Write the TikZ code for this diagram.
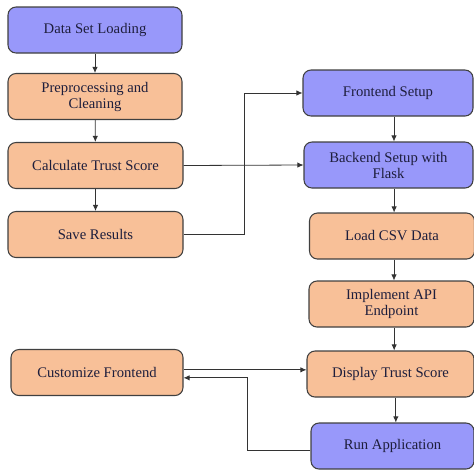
\documentclass[tikz,border=0pt]{standalone}
\usepackage{fontspec}
\setmainfont{Liberation Serif}
\usepackage{tikz}
\usetikzlibrary{arrows.meta}

\definecolor{boxblue}{RGB}{152,152,250}
\definecolor{boxpeach}{RGB}{248,192,152}
\definecolor{boxtext}{RGB}{30,30,60}

\begin{document}
\begin{tikzpicture}[
    x=0.75pt, y=-0.75pt,
    box node/.style={draw=black!75, line width=0.8pt, rounded corners=6pt,
        align=center, font=\fontsize{11}{12}\selectfont, text=boxtext,
        minimum height=46*0.75pt},
    blue node/.style={box node, fill=boxblue},
    orange node/.style={box node, fill=boxpeach},
    flow/.style={-{Latex[length=4.5pt,width=4pt]}, line width=0.6pt, black!80}
]
    \useasboundingbox (0,0) rectangle (474,469);

    % left column
    \node[blue node, minimum width=174*0.75pt] (load) at (95,30) {Data Set Loading};
    \node[orange node, minimum width=174*0.75pt] (prep) at (95,96.5) {Preprocessing and\\Cleaning};
    \node[orange node, minimum width=175*0.75pt] (calc) at (95.5,165.5) {Calculate Trust Score};
    \node[orange node, minimum width=175*0.75pt] (save) at (95.5,234.5) {Save Results};
    \node[orange node, minimum width=172*0.75pt] (cust) at (97,372.5) {Customize Frontend};

    % right column
    \node[blue node, minimum width=170*0.75pt] (front) at (388,93) {Frontend Setup};
    \node[blue node, minimum width=169*0.75pt] (back) at (388.5,165) {Backend Setup with\\Flask};
    \node[orange node, minimum width=165*0.75pt] (csv) at (392,236) {Load CSV Data};
    \node[orange node, minimum width=165*0.75pt] (api) at (391.5,304) {Implement API\\Endpoint};
    \node[orange node, minimum width=167*0.75pt] (disp) at (390.5,374) {Display Trust Score};
    \node[blue node, minimum width=163*0.75pt] (run) at (392.5,446) {Run Application};

    % bends of the long connectors
    \coordinate (up) at (244,234.5);
    \coordinate (back up) at (247,450);

    \draw[flow] (load) -- (prep);
    \draw[flow] (prep) -- (calc);
    \draw[flow] (calc) -- (save);

    \draw[flow] (save.east) -- (up) |- (front.west);
    \draw[flow] (calc.east) -- (back.west);

    \draw[flow] ([xshift=4.5pt]front.south) -- ([xshift=4.5pt]front.south |- back.north);
    \draw[flow] ([xshift=4.2pt]back.south) -- ([xshift=4.2pt]back.south |- csv.north);
    \draw[flow] ([xshift=1.5pt]csv.south) -- ([xshift=1.5pt]csv.south |- api.north);
    \draw[flow] ([xshift=2pt]api.south) -- ([xshift=2pt]api.south |- disp.north);
    \draw[flow] ([xshift=4pt]disp.south) -- ([xshift=4pt]disp.south |- run.north);

    \draw[flow] ([yshift=2pt]cust.east) -- ([yshift=2pt]cust.east -| disp.west);
    \draw[flow] (run.west |- back up) -- (back up) |- ([yshift=-4pt]cust.east);
\end{tikzpicture}
\end{document}
